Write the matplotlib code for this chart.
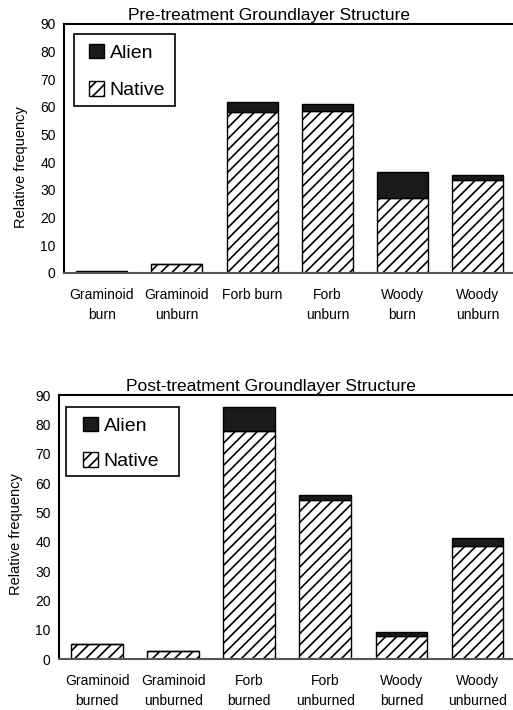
import numpy as np
import matplotlib.pyplot as plt
from matplotlib.patches import Patch, Rectangle

plt.rcParams['font.family'] = ['Liberation Sans', 'DejaVu Sans']
plt.rcParams['hatch.linewidth'] = 1.2

# ── data ──────────────────────────────────────────────────────────────────
pre_labels = ["Graminoid\nburn", "Graminoid\nunburn", "Forb burn",
              "Forb\nunburn", "Woody\nburn", "Woody\nunburn"]
pre_native = [0.0, 3.1, 58.1, 58.7, 27.2, 33.5]
pre_alien = [0.6, 0.0, 3.8, 2.3, 9.4, 1.9]

post_labels = ["Graminoid\nburned", "Graminoid\nunburned", "Forb\nburned",
               "Forb\nunburned", "Woody\nburned", "Woody\nunburned"]
post_native = [5.1, 2.9, 77.9, 54.1, 7.9, 38.5]
post_alien = [0.0, 0.0, 8.1, 1.8, 1.4, 2.8]

yticks = np.arange(0, 91, 10)

fig = plt.figure(figsize=(5.13, 7.10), dpi=100)
ax_pre = fig.add_axes([0.1248, 0.6155, 0.88, 0.3507])
ax_post = fig.add_axes([0.1150, 0.0718, 0.89, 0.3718])


def draw(ax, labels, native, alien, title, title_x, ylab_xy,
         box, leg_anchor, leg_spacing):
    x = np.arange(len(labels))
    ax.bar(x, native, width=0.68, color="white", edgecolor="black",
           hatch="///", lw=1.0)
    ax.bar(x, alien, width=0.68, bottom=native, color="#1a1a1a",
           edgecolor="black", lw=1.0)
    ax.set_xlim(-0.5, 5.5)
    ax.set_ylim(0, 90)
    ax.set_yticks(yticks)
    ax.set_xticks(x)
    ax.set_xticklabels(labels, fontsize=10, linespacing=1.55)
    ax.tick_params(length=0, labelsize=10, pad=6)
    ax.tick_params(axis="x", pad=11)
    ax.spines["right"].set_visible(False)
    for s in ("left", "top", "bottom"):
        ax.spines[s].set_linewidth(1.5)
    ax.spines["bottom"].set_color("#555555")
    ax.set_ylabel("Relative frequency", fontsize=10.5)
    ax.yaxis.set_label_coords(*ylab_xy)
    ax.set_title(title, fontsize=12.5, pad=3, x=title_x)

    # legend: frame drawn separately so the padding can differ per side
    ax.add_patch(Rectangle(box[:2], box[2], box[3], transform=ax.transAxes,
                           facecolor="white", edgecolor="black", lw=1.2,
                           zorder=4, clip_on=False))
    handles = [Patch(facecolor="#1a1a1a", edgecolor="black", label="Alien"),
               Patch(facecolor="white", edgecolor="black", hatch="///",
                     label="Native")]
    leg = ax.legend(handles=handles, loc="center left", fontsize=14,
                    frameon=False, handlelength=0.75, handleheight=0.75,
                    handletextpad=0.3, labelspacing=leg_spacing,
                    borderpad=0, borderaxespad=0, bbox_to_anchor=leg_anchor)
    leg.set_zorder(5)


draw(ax_pre, pre_labels, pre_native, pre_alien,
     "Pre-treatment Groundlayer Structure", 0.454, (-0.080, 0.426),
     (0.0223, 0.6707, 0.2227, 0.2893), (0.056, 0.809), 1.0)
draw(ax_post, post_labels, post_native, post_alien,
     "Post-treatment Groundlayer Structure", 0.465, (-0.079, 0.473),
     (0.0154, 0.6932, 0.2467, 0.2613), (0.053, 0.816), 0.9)

fig.savefig("out.png", dpi=100)
